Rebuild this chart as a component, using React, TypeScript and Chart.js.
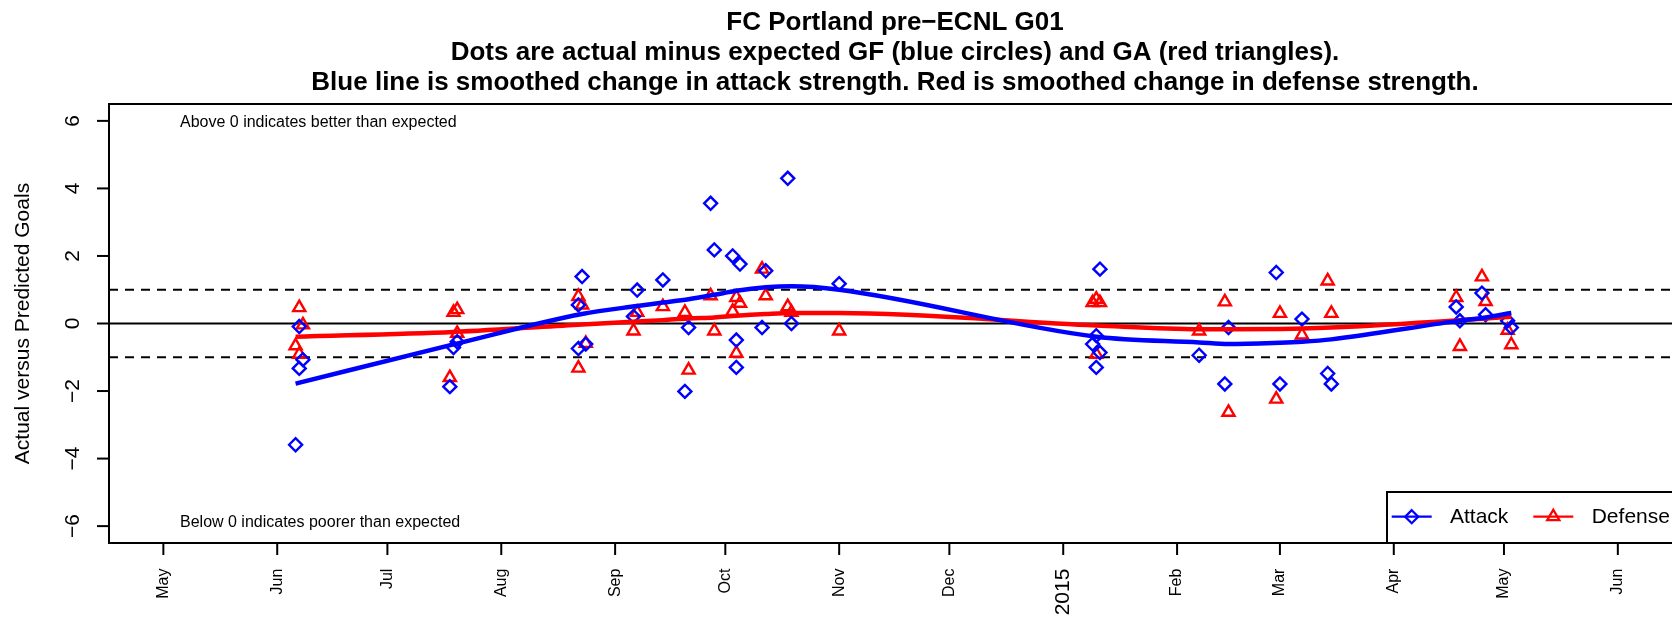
import React, { useEffect, useRef } from 'react';
import { Chart, registerables } from 'chart.js';

Chart.register(...registerables);

const FONT = '"Liberation Sans", Arial, Helvetica, sans-serif';

const titleLines = [
  'FC Portland pre\u2212ECNL G01',
  'Dots are actual minus expected GF (blue circles) and GA (red triangles).',
  'Blue line is smoothed change in attack strength. Red is smoothed change in defense strength.',
];
const yAxisLabel = 'Actual versus Predicted Goals';
const noteAbove = 'Above 0 indicates better than expected';
const noteBelow = 'Below 0 indicates poorer than expected';
const legendLabels = ['Attack', 'Defense'];

const attackDates = [
  '2014-06-06', '2014-06-07', '2014-06-07', '2014-06-08',
  '2014-07-18', '2014-07-19', '2014-07-20',
  '2014-08-22', '2014-08-22', '2014-08-23', '2014-08-24',
  '2014-09-06', '2014-09-07', '2014-09-14', '2014-09-20', '2014-09-21', '2014-09-27', '2014-09-28',
  '2014-10-03', '2014-10-04', '2014-10-04', '2014-10-05', '2014-10-11', '2014-10-12', '2014-10-18', '2014-10-19',
  '2014-11-01',
  '2015-01-09', '2015-01-10', '2015-01-10', '2015-01-11', '2015-01-11',
  '2015-02-07', '2015-02-14', '2015-02-15', '2015-02-28',
  '2015-03-01', '2015-03-07', '2015-03-14', '2015-03-15',
  '2015-04-18', '2015-04-19', '2015-04-25', '2015-04-26',
  '2015-05-02', '2015-05-03',
];
const attackValues = [
  -3.59, -0.09, -1.33, -1.07,
  -1.87, -0.71, -0.54,
  0.55, -0.74, 1.39, -0.61,
  0.21, 0.99, 1.29, -2.01, -0.12, 3.56, 2.18,
  2.0, -0.49, -1.3, 1.76, -0.12, 1.56, 4.3, 0.0,
  1.18,
  -0.61, -0.36, -1.3, 1.61, -0.86,
  -0.94, -1.79, -0.12, 1.51,
  -1.79, 0.13, -1.48, -1.79,
  0.49, 0.08, 0.9, 0.26,
  0.08, -0.12,
];

const defenseDates = [
  '2014-06-06', '2014-06-07', '2014-06-07', '2014-06-08',
  '2014-07-18', '2014-07-19', '2014-07-20', '2014-07-20',
  '2014-08-22', '2014-08-22', '2014-08-23', '2014-08-24',
  '2014-09-06', '2014-09-07', '2014-09-14', '2014-09-20', '2014-09-21', '2014-09-27', '2014-09-28',
  '2014-10-03', '2014-10-04', '2014-10-04', '2014-10-05', '2014-10-11', '2014-10-12', '2014-10-18', '2014-10-19',
  '2014-11-01',
  '2015-01-09', '2015-01-10', '2015-01-10', '2015-01-11',
  '2015-02-07', '2015-02-14', '2015-02-15', '2015-02-28',
  '2015-03-01', '2015-03-07', '2015-03-14', '2015-03-15',
  '2015-04-18', '2015-04-19', '2015-04-25', '2015-04-26',
  '2015-05-02', '2015-05-03',
];
const defenseValues = [
  -0.66, 0.47, -0.91, -0.04,
  -1.6, 0.33, 0.41, -0.29,
  0.8, -1.32, 0.55, -0.59,
  -0.22, 0.33, 0.5, 0.33, -1.38, 0.82, -0.22,
  0.36, 0.77, -0.88, 0.6, 1.61, 0.82, 0.5, 0.33,
  -0.22,
  0.62, 0.72, -0.91, 0.62,
  -0.22, 0.64, -2.63, -2.24,
  0.3, -0.34, 1.26, 0.3,
  0.77, -0.68, 1.38, 0.65,
  -0.2, -0.63,
];

const smoothDates = [
  '2014-06-06', '2014-07-19', '2014-08-23', '2014-09-07', '2014-09-14', '2014-09-21', '2014-09-28',
  '2014-10-04', '2014-10-12', '2014-10-19', '2014-11-01', '2015-01-10', '2015-02-07', '2015-02-15',
  '2015-03-01', '2015-03-07', '2015-03-15', '2015-04-18', '2015-04-26', '2015-05-03',
];
const attackSmooth = [
  -1.78, -0.62, 0.28, 0.52, 0.62, 0.72, 0.85,
  0.97, 1.07, 1.1, 1.0, -0.39, -0.56, -0.61,
  -0.57, -0.54, -0.47, 0.07, 0.18, 0.31,
];
const defenseSmooth = [
  -0.39, -0.25, -0.03, 0.06, 0.1, 0.15, 0.18,
  0.23, 0.28, 0.31, 0.31, -0.06, -0.17, -0.17,
  -0.16, -0.15, -0.12, 0.09, 0.15, 0.2,
];

const monthTickDates = [
  '2014-05-01', '2014-06-01', '2014-07-01', '2014-08-01', '2014-09-01', '2014-10-01', '2014-11-01',
  '2014-12-01', '2015-01-01', '2015-02-01', '2015-03-01', '2015-04-01', '2015-05-01', '2015-06-01',
];
const monthTickLabels = ['May', 'Jun', 'Jul', 'Aug', 'Sep', 'Oct', 'Nov', 'Dec', '2015', 'Feb', 'Mar', 'Apr', 'May', 'Jun'];
const yTickValues = [-6, -4, -2, 0, 2, 4, 6];
const bandValues = [-1, 1];
const yMin = -6.5;
const yMax = 6.5;

const day = (s: string) =>
  Date.UTC(+s.slice(0, 4), +s.slice(5, 7) - 1, +s.slice(8, 10)) / 86400000;

const xMin = day('2014-05-01') - 14.8;
const xMax = day('2014-05-01') + 413.2;

const BLUE = '#0000ff';
const RED = '#ff0000';

function seg(ctx: CanvasRenderingContext2D, x1: number, y1: number, x2: number, y2: number) {
  ctx.beginPath();
  ctx.moveTo(x1, y1);
  ctx.lineTo(x2, y2);
  ctx.stroke();
}

function diamond(ctx: CanvasRenderingContext2D, x: number, y: number, r: number) {
  ctx.beginPath();
  ctx.moveTo(x, y - r);
  ctx.lineTo(x + r, y);
  ctx.lineTo(x, y + r);
  ctx.lineTo(x - r, y);
  ctx.closePath();
  ctx.stroke();
}

function triangle(ctx: CanvasRenderingContext2D, x: number, y: number, r: number) {
  ctx.beginPath();
  ctx.moveTo(x, y - r);
  ctx.lineTo(x + r * 0.866, y + r / 2);
  ctx.lineTo(x - r * 0.866, y + r / 2);
  ctx.closePath();
  ctx.stroke();
}

const decoPlugin = {
  id: 'deco',
  beforeDatasetsDraw(chart: any) {
    const { ctx, chartArea: a, scales } = chart;
    const y = scales.y;
    ctx.save();
    ctx.strokeStyle = '#000';
    ctx.lineWidth = 2;
    const p0 = y.getPixelForValue(0);
    seg(ctx, a.left, p0, a.right, p0);
    ctx.setLineDash([9, 7]);
    for (const v of bandValues) {
      const p = y.getPixelForValue(v);
      seg(ctx, a.left, p, a.right, p);
    }
    ctx.restore();
  },
  afterDraw(chart: any) {
    const { ctx, chartArea: a, scales } = chart;
    const x = scales.x;
    const y = scales.y;
    ctx.save();
    ctx.strokeStyle = '#000';
    ctx.fillStyle = '#000';
    ctx.lineWidth = 2;

    // box
    ctx.strokeRect(a.left, a.top, a.right - a.left, a.bottom - a.top);

    // y ticks
    ctx.font = `21px ${FONT}`;
    ctx.textAlign = 'center';
    ctx.textBaseline = 'alphabetic';
    for (const v of yTickValues) {
      const py = y.getPixelForValue(v);
      seg(ctx, a.left, py, a.left - 12, py);
      ctx.save();
      ctx.translate(a.left - 30.5, py);
      ctx.rotate(-Math.PI / 2);
      ctx.fillText(v < 0 ? '\u2212' + Math.abs(v) : String(v), 0, 0);
      ctx.restore();
    }

    // y label
    ctx.save();
    ctx.translate(28.5, (a.top + a.bottom) / 2);
    ctx.rotate(-Math.PI / 2);
    ctx.fillText(yAxisLabel, 0, 0);
    ctx.restore();

    // x ticks
    monthTickDates.forEach((d, i) => {
      const px = x.getPixelForValue(day(d));
      seg(ctx, px, a.bottom, px, a.bottom + 12);
      const lab = monthTickLabels[i];
      ctx.save();
      ctx.font = lab === '2015' ? `21px ${FONT}` : `16px ${FONT}`;
      ctx.textAlign = 'right';
      ctx.textBaseline = 'middle';
      ctx.translate(px, a.bottom + 25.6);
      ctx.rotate(-Math.PI / 2);
      ctx.fillText(lab, 0, 0);
      ctx.restore();
    });

    // notes
    ctx.font = `16px ${FONT}`;
    ctx.textAlign = 'left';
    ctx.textBaseline = 'alphabetic';
    ctx.fillText(noteAbove, a.left + 71, y.getPixelForValue(6) + 6.4);
    ctx.fillText(noteBelow, a.left + 71, y.getPixelForValue(-6) + 0.6);

    // title
    ctx.font = `bold 26px ${FONT}`;
    ctx.textAlign = 'center';
    const cx = (a.left + a.right) / 2;
    titleLines.forEach((t, i) => ctx.fillText(t, cx, 30 + i * 30));

    // legend
    const lw = 294;
    const lh = 51;
    const lx = a.right - lw;
    const ly = a.bottom - lh;
    ctx.fillStyle = '#fff';
    ctx.fillRect(lx, ly, lw, lh);
    ctx.strokeStyle = '#000';
    ctx.strokeRect(lx, ly, lw, lh);
    const my = ly + 24.7;
    ctx.lineWidth = 2.3;
    ctx.strokeStyle = BLUE;
    seg(ctx, lx + 4.7, my, lx + 44.7, my);
    diamond(ctx, lx + 24.7, my, 6.5);
    ctx.strokeStyle = RED;
    seg(ctx, lx + 146.3, my, lx + 186.3, my);
    triangle(ctx, lx + 166.3, my, 7);
    ctx.fillStyle = '#000';
    ctx.font = `21px ${FONT}`;
    ctx.textAlign = 'left';
    ctx.textBaseline = 'middle';
    ctx.fillText(legendLabels[0], lx + 63, my + 1);
    ctx.fillText(legendLabels[1], lx + 204.7, my + 1);

    ctx.restore();
  },
};

export default function App() {
  const ref = useRef<HTMLCanvasElement>(null);

  useEffect(() => {
    const canvas = ref.current;
    if (!canvas) return;
    const chart = new Chart(canvas, {
      type: 'scatter',
      data: {
        datasets: [
          {
            type: 'line',
            data: smoothDates.map((d, i) => ({ x: day(d), y: attackSmooth[i] })),
            borderColor: BLUE,
            borderWidth: 4.5,
            pointRadius: 0,
            fill: false,
            cubicInterpolationMode: 'monotone',
          },
          {
            type: 'line',
            data: smoothDates.map((d, i) => ({ x: day(d), y: defenseSmooth[i] })),
            borderColor: RED,
            borderWidth: 4.5,
            pointRadius: 0,
            fill: false,
            cubicInterpolationMode: 'monotone',
          },
          {
            type: 'scatter',
            data: attackDates.map((d, i) => ({ x: day(d), y: attackValues[i] })),
            pointStyle: 'rectRot',
            pointRadius: 6.5,
            borderWidth: 2.4,
            pointBorderWidth: 2.4,
            borderColor: BLUE,
            pointBorderColor: BLUE,
            backgroundColor: 'rgba(0,0,0,0)',
            pointBackgroundColor: 'rgba(0,0,0,0)',
            showLine: false,
          },
          {
            type: 'scatter',
            data: defenseDates.map((d, i) => ({ x: day(d), y: defenseValues[i] })),
            pointStyle: 'triangle',
            pointRadius: 7,
            borderWidth: 2.4,
            pointBorderWidth: 2.4,
            borderColor: RED,
            pointBorderColor: RED,
            backgroundColor: 'rgba(0,0,0,0)',
            pointBackgroundColor: 'rgba(0,0,0,0)',
            showLine: false,
          },
        ] as any,
      },
      options: {
        animation: false,
        responsive: false,
        devicePixelRatio: 1,
        layout: { padding: { left: 109, right: 19, top: 104, bottom: 74 } },
        scales: {
          x: { type: 'linear', min: xMin, max: xMax, display: false },
          y: { type: 'linear', min: yMin, max: yMax, display: false },
        },
        plugins: {
          legend: { display: false },
          tooltip: { enabled: false },
          title: { display: false },
        },
        events: [],
      } as any,
      plugins: [decoPlugin],
    });
    return () => chart.destroy();
  }, []);

  return (
    <div
      style={{
        position: 'fixed',
        left: 0,
        top: 0,
        width: 1672,
        height: 617,
        overflow: 'hidden',
        background: '#fff',
      }}
    >
      <canvas ref={ref} width={1700} height={617} style={{ display: 'block', width: 1700, height: 617 }} />
    </div>
  );
}
